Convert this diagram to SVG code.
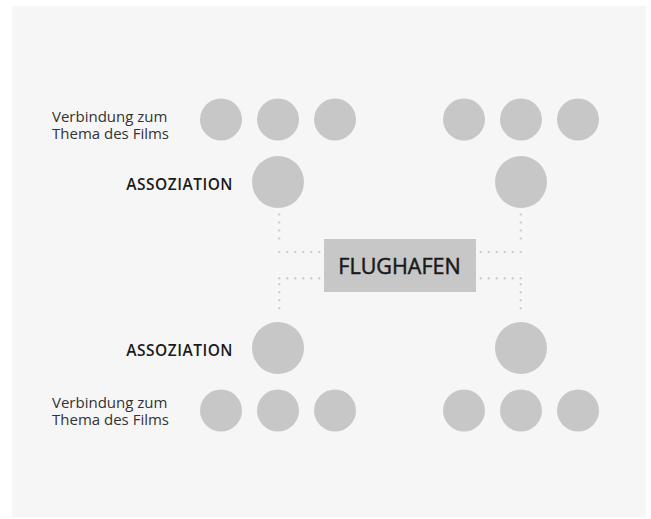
<svg xmlns="http://www.w3.org/2000/svg" width="651" height="519" viewBox="0 0 651 519">
<style>
.bg{fill:#f6f6f6}
.c{fill:#c7c7c7}
.lbl{font-family:"Open Sans","Noto Sans",sans-serif;font-size:15px;fill:#333}
.assoc{font-family:"Open Sans","Noto Sans",sans-serif;font-size:15.5px;font-weight:600;letter-spacing:0.5px;fill:#1a1a1a}
.main{font-family:"Open Sans","Noto Sans",sans-serif;font-size:21.5px;font-weight:400;fill:#1a1a1a;stroke:#1a1a1a;stroke-width:0.5}
.dot{fill:none;stroke:#c4c4c4;stroke-width:2.2;stroke-linecap:round;stroke-dasharray:0 8}
</style>
<rect x="0" y="0" width="651" height="519" fill="#ffffff"/>
<rect class="bg" x="12" y="6" width="634" height="511"/>
<g id="connectors">
<line class="dot" x1="279.3" y1="214.5" x2="279.3" y2="246.5"/>
<line class="dot" x1="279.3" y1="252" x2="320" y2="252"/>
<line class="dot" x1="279.3" y1="278.3" x2="320" y2="278.3"/>
<line class="dot" x1="279.3" y1="284.3" x2="279.3" y2="316.3"/>
<line class="dot" x1="520.7" y1="214.5" x2="520.7" y2="246.5"/>
<line class="dot" x1="520.7" y1="252" x2="480" y2="252"/>
<line class="dot" x1="520.7" y1="278.3" x2="480" y2="278.3"/>
<line class="dot" x1="520.7" y1="284.3" x2="520.7" y2="316.3"/>
</g>
<g id="flughafen">
<rect class="c" x="324" y="239" width="152" height="53"/>
<text class="main" x="399.5" y="274" text-anchor="middle">FLUGHAFEN</text>
</g>
<g id="label-top">
<text class="lbl" x="52" y="121.5">Verbindung zum</text>
<text class="lbl" x="52" y="138.5">Thema des Films</text>
<text class="assoc" x="233" y="190" text-anchor="end">ASSOZIATION</text>
</g>
<g id="label-bottom">
<text class="lbl" x="52" y="407.5">Verbindung zum</text>
<text class="lbl" x="52" y="424.5">Thema des Films</text>
<text class="assoc" x="233" y="356" text-anchor="end">ASSOZIATION</text>
</g>
<g id="assoc-top-left"><circle class="c" cx="278" cy="182" r="26"/></g>
<g id="assoc-top-right"><circle class="c" cx="521" cy="182" r="26"/></g>
<g id="assoc-bottom-left"><circle class="c" cx="278" cy="348" r="26"/></g>
<g id="assoc-bottom-right"><circle class="c" cx="521" cy="348" r="26"/></g>
<g id="topic-top-left">
<circle class="c" cx="221" cy="119.5" r="21"/>
<circle class="c" cx="278" cy="119.5" r="21"/>
<circle class="c" cx="335" cy="119.5" r="21"/>
</g>
<g id="topic-top-right">
<circle class="c" cx="464" cy="119.5" r="21"/>
<circle class="c" cx="521" cy="119.5" r="21"/>
<circle class="c" cx="578" cy="119.5" r="21"/>
</g>
<g id="topic-bottom-left">
<circle class="c" cx="221" cy="410.5" r="21"/>
<circle class="c" cx="278" cy="410.5" r="21"/>
<circle class="c" cx="335" cy="410.5" r="21"/>
</g>
<g id="topic-bottom-right">
<circle class="c" cx="464" cy="410.5" r="21"/>
<circle class="c" cx="521" cy="410.5" r="21"/>
<circle class="c" cx="578" cy="410.5" r="21"/>
</g>
</svg>
